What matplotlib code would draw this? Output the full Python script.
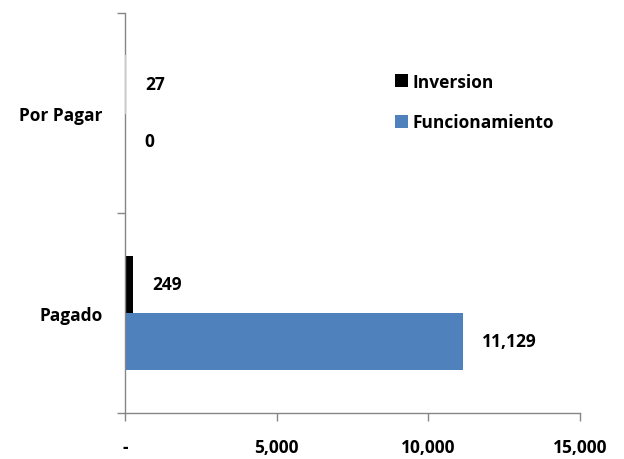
import matplotlib
matplotlib.use("Agg")
import matplotlib.pyplot as plt
from matplotlib.patches import Patch
from matplotlib.ticker import FuncFormatter

categories = ["Pagado", "Por Pagar"]
inversion = [249, 27]
funcionamiento = [11129, 0]
x_ticks = [0, 5000, 10000, 15000]

C_INV = "#000000"
C_FUN = "#4F81BD"
C_AXIS = "#868686"
FONT = ["Open Sans", "DejaVu Sans"]
FS = 12.5

plt.rcParams["font.family"] = FONT
plt.rcParams["font.weight"] = "bold"

fig = plt.figure(figsize=(6.24, 4.6), dpi=100)
ax = fig.add_axes([0.2003, 0.1, 0.7292, 0.8696])

pos = list(range(len(categories)))
h = 0.285
ax.barh([p + h / 2 for p in pos], inversion, height=h, color=C_INV,
        label="Inversion", linewidth=0)
ax.barh([p - h / 2 for p in pos], funcionamiento, height=h, color=C_FUN,
        label="Funcionamiento", linewidth=0)
# thin line where the tiny bar sits
ax.plot([0, 0], [1, 1 + h], color="#C8C8C8", lw=1.6, zorder=3)

for p, v in zip(pos, inversion):
    ax.text(v + 650, p + h / 2, f"{v:,}", ha="left", va="center",
            fontsize=FS, fontweight="bold")
for p, v in zip(pos, funcionamiento):
    ax.text(v + 650, p - h / 2, f"{v:,}", ha="left", va="center",
            fontsize=FS, fontweight="bold")

ax.set_xlim(0, 15000)
ax.set_ylim(-0.5, 1.5)
ax.set_xticks(x_ticks)
ax.xaxis.set_major_formatter(FuncFormatter(lambda v, _: "-" if v == 0 else f"{v:,.0f}"))
ax.set_yticks(pos)
ax.set_yticklabels(categories)
ax.set_yticks([-0.5, 0.5, 1.5], minor=True)

for s in ["top", "right"]:
    ax.spines[s].set_visible(False)
for s in ["left", "bottom"]:
    ax.spines[s].set_color(C_AXIS)
    ax.spines[s].set_linewidth(1.0)

ax.tick_params(axis="x", colors=C_AXIS, length=6, width=1, pad=12,
               labelsize=FS, labelcolor="black")
ax.tick_params(axis="y", which="major", length=0, pad=16,
               labelsize=FS, labelcolor="black")
ax.tick_params(axis="y", which="minor", colors=C_AXIS, length=6, width=1)
for lbl in ax.get_xticklabels() + ax.get_yticklabels():
    lbl.set_fontweight("bold")

handles = [Patch(facecolor=C_INV, label="Inversion"),
           Patch(facecolor=C_FUN, label="Funcionamiento")]
leg = ax.legend(handles=handles, loc="upper left", bbox_to_anchor=(0.558, 0.89),
                frameon=False, handlelength=0.8, handleheight=0.8,
                handletextpad=0.25, labelspacing=1.3,
                prop={"weight": "bold", "size": FS})

fig.savefig("out.png", dpi=100, facecolor="white")
